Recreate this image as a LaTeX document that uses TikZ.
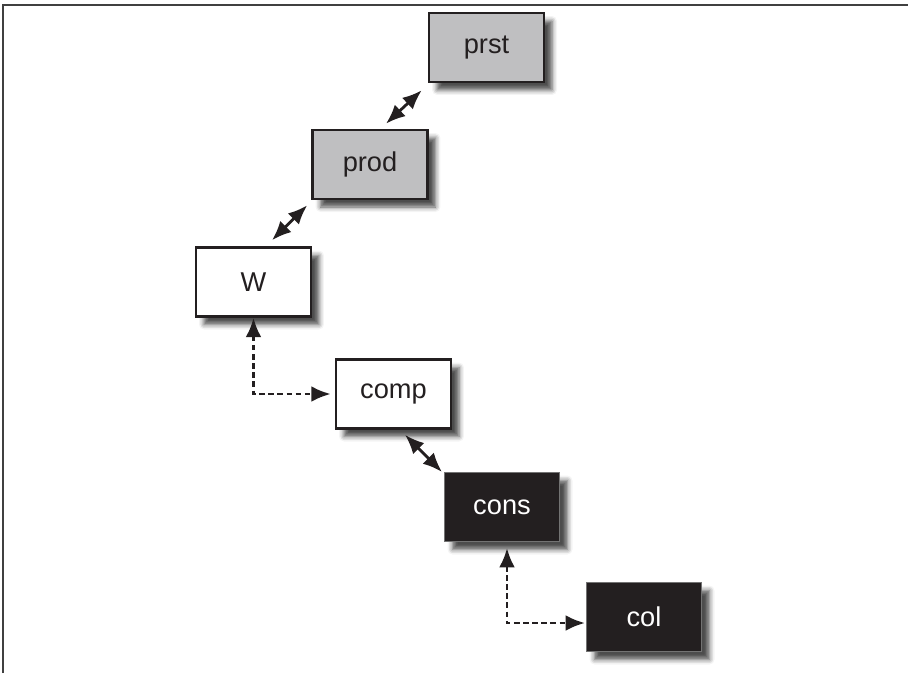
\documentclass[tikz,border=0pt]{standalone}
\usepackage{fontspec}
\setmainfont{Liberation Sans}
\usetikzlibrary{arrows.meta,positioning,shadows.blur}
\definecolor{boxGrey}{HTML}{BFBFC1}
\definecolor{boxDark}{HTML}{231F20}
\tikzset{
	box/.style={draw=boxDark, line width=1.5pt, minimum width=2.3cm, minimum height=1.38cm,
		inner sep=0pt, font=\fontsize{15.5}{18}\selectfont, text=boxDark, fill=white,
		blur shadow={shadow xshift=0.16cm, shadow yshift=-0.16cm, shadow blur radius=0.1cm, shadow opacity=70}},
	grey box/.style={box, fill=boxGrey},
	dark box/.style={box, fill=boxDark, draw=black!55, line width=0.6pt, text=white},
	link/.style={<->, >={Latex[length=11pt,width=9pt]}, line width=1.6pt, draw=boxDark},
	dash link/.style={link, dash pattern=on 3.2pt off 2pt}
}

\begin{document}
\begin{tikzpicture}[x=0.02cm, y=-0.02cm]
	\useasboundingbox (0,0) rectangle (908,673);
	\draw[line width=0.6pt, black!75] (3,673) -- (3,5) -- (908,5);
	
	\node[grey box] (prst) at (486.5,47.5) {prst};
	\node[grey box] (prod) at (370,164.5) {prod};
	\node[box] (W) at (253.5,282) {W};
	\node[box] (comp) at (393.5,394) {comp};
	\node[dark box] (cons) at (502,507) {cons};
	\node[dark box] (col) at (644,617) {col};
	
	\draw[link] ([xshift=0.32cm,yshift=0.1cm]prod.north) -- ([xshift=-0.12cm,yshift=-0.14cm]prst.south west);
	\draw[link] ([xshift=0.37cm,yshift=0.12cm]W.north) -- ([xshift=-0.08cm,yshift=-0.1cm]prod.south west);
	\draw[link] ([xshift=0.23cm,yshift=-0.1cm]comp.south) -- ([xshift=-0.04cm]cons.north west);
	%\draw[link] (W) -- (comp);
	\draw[dash link, shorten >=0.08cm] (W.south) |- (comp.west);
	\draw[dash link, shorten <=0.12cm, shorten >=0.02cm] ([xshift=0.1cm]cons.south) |- ([yshift=-0.12cm]col.west);
\end{tikzpicture}
\end{document}
